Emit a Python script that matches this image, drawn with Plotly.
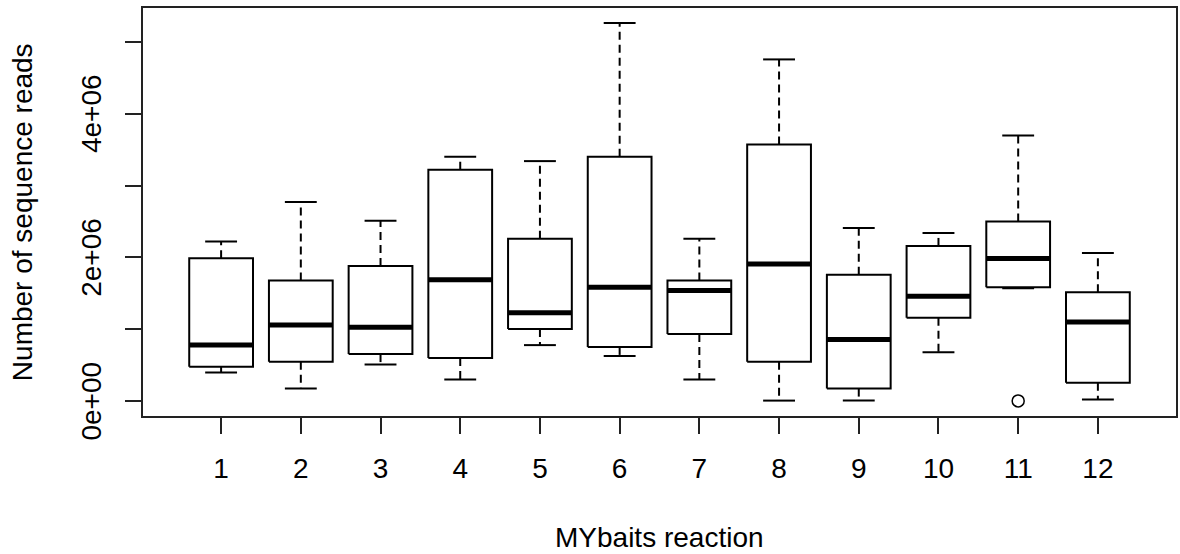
import plotly.graph_objects as go

# ---- data (number of sequence reads per MYbaits reaction) ----
reactions = ["1", "2", "3", "4", "5", "6", "7", "8", "9", "10", "11", "12"]
lower_whisker = [0.40e6, 0.175e6, 0.51e6, 0.30e6, 0.78e6, 0.63e6, 0.30e6, 0.008e6, 0.008e6, 0.68e6, 1.57e6, 0.025e6]
q1_values = [0.48e6, 0.55e6, 0.655e6, 0.60e6, 1.005e6, 0.755e6, 0.935e6, 0.55e6, 0.175e6, 1.16e6, 1.585e6, 0.255e6]
medians = [0.78e6, 1.06e6, 1.03e6, 1.69e6, 1.23e6, 1.585e6, 1.54e6, 1.91e6, 0.857e6, 1.46e6, 1.985e6, 1.10e6]
q3_values = [1.99e6, 1.68e6, 1.88e6, 3.22e6, 2.26e6, 3.40e6, 1.68e6, 3.57e6, 1.76e6, 2.16e6, 2.50e6, 1.515e6]
upper_whisker = [2.22e6, 2.77e6, 2.51e6, 3.40e6, 3.34e6, 5.26e6, 2.26e6, 4.755e6, 2.41e6, 2.34e6, 3.695e6, 2.06e6]
outlier_group = ["11"]
outlier_values = [0.004e6]

y_tick_values = [0, 1e6, 2e6, 3e6, 4e6, 5e6]
y_tick_labels = ["0e+00", "", "2e+06", "", "4e+06", ""]

x_title = "MYbaits reaction"
y_title = "Number of sequence reads"

FONT = "Liberation Sans, Arial, sans-serif"
FS = 28
INK = "#000000"

half_box = 0.4
half_cap = 0.2

pos = {c: i + 1 for i, c in enumerate(reactions)}

bx, by, mx, my, wx, wy, cx, cy = [], [], [], [], [], [], [], []
for c, lo, a, m, b, hi in zip(reactions, lower_whisker, q1_values, medians, q3_values, upper_whisker):
    p = pos[c]
    bx += [p - half_box, p + half_box, p + half_box, p - half_box, p - half_box, None]
    by += [a, a, b, b, a, None]
    mx += [p - half_box, p + half_box, None]
    my += [m, m, None]
    wx += [p, p, None, p, p, None]
    wy += [b, hi, None, a, lo, None]
    cx += [p - half_cap, p + half_cap, None, p - half_cap, p + half_cap, None]
    cy += [hi, hi, None, lo, lo, None]

fig = go.Figure()
fig.add_trace(go.Scatter(x=wx, y=wy, mode="lines", line=dict(color=INK, width=2, dash="8px,5px"),
                         hoverinfo="skip", showlegend=False))
fig.add_trace(go.Scatter(x=cx, y=cy, mode="lines", line=dict(color=INK, width=2),
                         hoverinfo="skip", showlegend=False))
fig.add_trace(go.Scatter(x=bx, y=by, mode="lines", line=dict(color=INK, width=2),
                         fill="toself", fillcolor="white", hoverinfo="skip", showlegend=False))
fig.add_trace(go.Scatter(x=mx, y=my, mode="lines", line=dict(color=INK, width=5),
                         hoverinfo="skip", showlegend=False))
fig.add_trace(go.Scatter(x=[pos[g] for g in outlier_group], y=outlier_values, mode="markers",
                         marker=dict(symbol="circle-open", size=12, color=INK, line=dict(width=1.5)),
                         hoverinfo="skip", showlegend=False))

# R-style axis ranges (4% extension)
n = len(reactions)
x_lo, x_hi = 0.5, n + 0.5
x_pad = 0.04 * (x_hi - x_lo)
all_y = lower_whisker + upper_whisker + outlier_values
y_lo, y_hi = min(all_y), max(all_y)
y_pad = 0.04 * (y_hi - y_lo)

fig.update_xaxes(range=[x_lo - x_pad, x_hi + x_pad], tickvals=[pos[c] for c in reactions], ticktext=reactions,
                 ticks="outside", ticklen=16, tickwidth=2, tickcolor="#222",
                 showline=True, mirror=True, linewidth=2, linecolor="#222",
                 showgrid=False, zeroline=False, ticklabelstandoff=10,
                 tickfont=dict(family=FONT, size=FS, color=INK))
fig.update_yaxes(range=[y_lo - y_pad, y_hi + y_pad], tickvals=y_tick_values, ticktext=y_tick_labels,
                 ticks="outside", ticklen=16, tickwidth=2, tickcolor="#222",
                 showline=True, mirror=True, linewidth=2, linecolor="#222",
                 showgrid=False, zeroline=False, showticklabels=False)

annotations = []
for v, t in zip(y_tick_values, y_tick_labels):
    if t:
        annotations.append(dict(text=t, xref="paper", yref="y", x=-0.05, y=v, xanchor="center",
                                yanchor="middle", textangle=-90, showarrow=False,
                                font=dict(family=FONT, size=FS, color=INK)))
annotations.append(dict(text=x_title, xref="paper", yref="paper", x=0.5, y=-0.299, xanchor="center",
                        yanchor="middle", showarrow=False, font=dict(family=FONT, size=FS, color=INK)))
annotations.append(dict(text=y_title, xref="paper", yref="paper", x=-0.117, y=0.5, xanchor="center",
                        yanchor="middle", textangle=-90, showarrow=False,
                        font=dict(family=FONT, size=FS, color=INK)))

fig.update_layout(width=1180, height=554, margin=dict(l=143, r=2, t=8, b=138, pad=0),
                  paper_bgcolor="white", plot_bgcolor="white", annotations=annotations,
                  font=dict(family=FONT, size=FS, color=INK))

fig.write_html("out.html")
